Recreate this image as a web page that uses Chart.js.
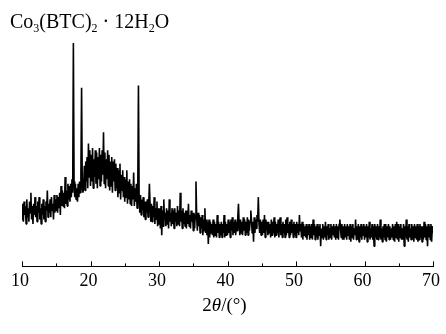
<!DOCTYPE html>
<html>
<head>
<meta charset="utf-8">
<script src="https://cdn.jsdelivr.net/npm/chart.js@4.4.1/dist/chart.umd.min.js"></script>
<style>
  html, body { margin: 0; padding: 0; background: #fff; }
  #wrap { width: 446px; height: 334px; position: relative; }
</style>
</head>
<body>
<div id="wrap"><canvas id="xrdChart"></canvas></div>
<script>
// XRD scan, 10-70 deg 2theta, one reading every 0.1 deg (one row = 1 deg)
const scanStart = 10
const scanStep = 0.1
const intensity = [
  21, 28, 20, 29, 23, 27, 19, 30, 22, 26,   // 10
  20, 29, 24, 33, 21, 27, 19, 28, 23, 31,   // 11
  22, 27, 20, 29, 24, 31, 21, 26, 19, 28,   // 12
  23, 30, 21, 27, 20, 29, 25, 34, 22, 28,   // 13
  24, 30, 22, 31, 25, 28, 21, 32, 24, 30,   // 14
  25, 32, 24, 31, 26, 33, 23, 36, 27, 34,   // 15
  27, 33, 26, 40, 28, 34, 27, 37, 30, 36,   // 16
  29, 37, 31, 39, 33, 100, 38, 31, 37, 30,  // 17
  35, 29, 37, 31, 38, 33, 42, 80, 36, 33,   // 18
  36, 45, 34, 47, 38, 49, 35, 55, 40, 52,   // 19
  36, 50, 38, 53, 35, 48, 40, 52, 37, 51,   // 20
  35, 49, 39, 53, 36, 50, 38, 52, 41, 60,   // 21
  37, 51, 35, 48, 39, 52, 36, 50, 34, 47,   // 22
  36, 49, 33, 47, 38, 48, 34, 46, 35, 44,   // 23
  31, 43, 33, 46, 30, 41, 34, 43, 31, 40,   // 24
  29, 39, 31, 43, 28, 38, 30, 39, 28, 37,   // 25
  27, 36, 30, 42, 27, 35, 29, 37, 26, 34,   // 26
  81, 31, 24, 32, 23, 30, 25, 31, 22, 29,   // 27
  21, 29, 24, 30, 22, 28, 37, 27, 20, 28,   // 28
  20, 27, 22, 31, 19, 26, 21, 29, 18, 26,   // 29
  19, 26, 17, 27, 14, 25, 18, 30, 21, 24,   // 30
  18, 26, 19, 25, 17, 30, 20, 24, 18, 26,   // 31
  19, 25, 17, 26, 20, 24, 18, 27, 19, 25,   // 32
  18, 33, 20, 25, 17, 26, 19, 24, 18, 25,   // 33
  17, 25, 19, 28, 18, 23, 17, 25, 20, 24,   // 34
  16, 24, 17, 23, 38, 22, 16, 24, 18, 23,   // 35
  15, 22, 17, 23, 14, 21, 16, 26, 15, 21,   // 36
  14, 20, 10, 21, 13, 20, 15, 19, 14, 21,   // 37
  13, 20, 14, 19, 13, 23, 15, 20, 13, 19,   // 38
  14, 20, 13, 19, 15, 23, 13, 20, 14, 19,   // 39
  14, 21, 15, 20, 13, 21, 16, 22, 14, 20,   // 40
  15, 21, 14, 20, 16, 22, 28, 19, 14, 21,   // 41
  15, 20, 14, 22, 16, 21, 14, 20, 15, 22,   // 42
  14, 21, 16, 20, 25, 21, 15, 20, 11, 22,   // 43
  15, 21, 17, 23, 20, 31, 19, 15, 21, 14,   // 44
  20, 14, 21, 15, 23, 13, 21, 16, 20, 14,   // 45
  20, 15, 19, 13, 21, 14, 20, 15, 22, 13,   // 46
  20, 14, 19, 15, 21, 13, 20, 22, 14, 19,   // 47
  13, 20, 15, 19, 13, 21, 14, 22, 15, 19,   // 48
  13, 20, 14, 21, 15, 19, 13, 20, 14, 19,   // 49
  13, 20, 15, 19, 14, 23, 16, 19, 13, 20,   // 50
  12, 19, 14, 18, 13, 19, 12, 18, 14, 19,   // 51
  12, 18, 13, 19, 12, 21, 14, 19, 12, 18,   // 52
  13, 19, 12, 18, 14, 19, 9, 17, 13, 19,    // 53
  12, 18, 13, 20, 12, 18, 14, 19, 12, 17,   // 54
  13, 19, 12, 18, 14, 19, 13, 18, 12, 19,   // 55
  13, 18, 12, 19, 21, 17, 13, 19, 12, 18,   // 56
  12, 19, 13, 18, 12, 19, 14, 18, 12, 19,   // 57
  11, 18, 13, 19, 12, 17, 14, 21, 12, 18,   // 58
  12, 19, 11, 18, 13, 19, 12, 18, 14, 19,   // 59
  12, 18, 13, 19, 11, 18, 13, 20, 12, 17,   // 60
  13, 19, 12, 18, 9, 19, 13, 18, 12, 19,    // 61
  12, 18, 13, 21, 12, 17, 11, 18, 13, 19,   // 62
  12, 19, 11, 18, 13, 19, 12, 18, 12, 17,   // 63
  13, 19, 12, 18, 11, 19, 13, 20, 12, 19,   // 64
  11, 18, 13, 19, 12, 17, 12, 19, 9, 18,    // 65
  13, 21, 12, 18, 11, 19, 13, 17, 12, 19,   // 66
  12, 18, 11, 19, 13, 18, 12, 19, 11, 18,   // 67
  12, 19, 13, 18, 11, 18, 12, 20, 13, 19,   // 68
  12, 18, 9, 19, 13, 18, 12, 19, 11, 18,    // 69
  15                                        // 70
]
const majorTicks = [10, 20, 30, 40, 50, 60, 70]
const minorTicks = [15, 25, 35, 45, 55, 65]

const serif = '"Liberation Serif", "Times New Roman", serif'

// draws a row of text pieces (for sub scripts / italic bits)
const drawRich = (ctx, parts, x, y, align) => {
    let total = 0
    parts.forEach(p => { ctx.font = p.font; total += ctx.measureText(p.text).width })
    let cx = align === 'center' ? x - total / 2 : x
    parts.forEach(p => {
        ctx.font = p.font
        ctx.fillText(p.text, cx, y + (p.dy || 0))
        cx += ctx.measureText(p.text).width
    })
}

const decorations = {
    id: 'decorations',
    afterDraw(chart) {
        const {ctx, chartArea, scales} = chart
        const x = scales.x
        ctx.save()
        ctx.strokeStyle = '#000'
        ctx.lineWidth = 1
        const mark = (v, len) => {
            const px = Math.round(x.getPixelForValue(v)) + 0.5
            ctx.beginPath()
            ctx.moveTo(px, chartArea.bottom)
            ctx.lineTo(px, chartArea.bottom - len)
            ctx.stroke()
        }
        majorTicks.forEach(v => mark(v, 5))
        minorTicks.forEach(v => mark(v, 3))

        ctx.fillStyle = '#000'
        ctx.textBaseline = 'alphabetic'
        const big = '20px ' + serif
        const sub = '12px ' + serif
        drawRich(ctx, [
            {text: 'Co', font: big},
            {text: '3', font: sub, dy: 4},
            {text: '(BTC)', font: big},
            {text: '2', font: sub, dy: 4},
            {text: ' \u00b7 12H', font: big},
            {text: '2', font: sub, dy: 4},
            {text: 'O', font: big}
        ], 10, 28, 'left')

        const t = '19px ' + serif
        drawRich(ctx, [
            {text: '2', font: t},
            {text: '\u03b8', font: 'italic ' + t},
            {text: '/(\u00b0)', font: t}
        ], (chartArea.left + chartArea.right) / 2 - 3, 311, 'center')
        ctx.restore()
    }
}

const points = intensity.map((v, i) => ({x: scanStart + i * scanStep, y: v}))

new Chart('xrdChart', {
    type: 'line',
    data: {
        datasets: [{
            data: points,
            borderColor: '#000',
            borderWidth: 1.6,
            borderJoinStyle: 'bevel',
            pointRadius: 0,
            tension: 0,
            fill: false
        }]
    },
    options: {
        responsive: true,
        maintainAspectRatio: false,
        animation: false,
        events: [],
        layout: { padding: { left: 22, right: 9, top: 43, bottom: 38 } },
        plugins: { legend: { display: false }, tooltip: { enabled: false } },
        scales: {
            x: {
                type: 'linear',
                min: 10,
                max: 70,
                grid: { display: false, drawTicks: false },
                border: { display: true, color: '#000', width: 1 },
                ticks: {
                    stepSize: 10,
                    autoSkip: false,
                    padding: 4,
                    labelOffset: -2,
                    color: '#000',
                    font: { family: serif, size: 18 }
                }
            },
            y: {
                display: false,
                min: 0,
                max: 100
            }
        }
    },
    plugins: [decorations]
})
</script>
</body>
</html>
